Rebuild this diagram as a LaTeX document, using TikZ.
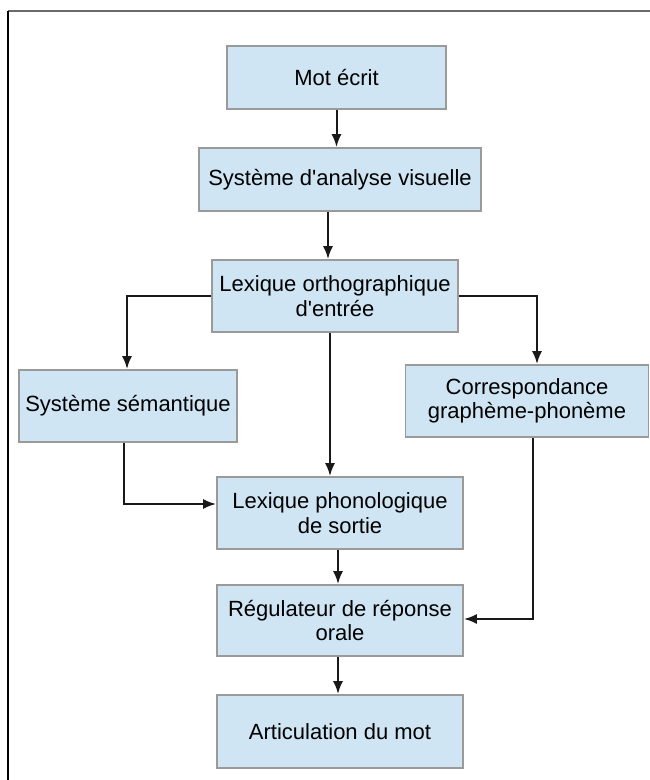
\documentclass[tikz,border=0pt]{standalone}
\usepackage{fontspec}
\setmainfont{Liberation Sans}
\usetikzlibrary{arrows.meta,calc}
\definecolor{boxfill}{HTML}{CFE5F3}
\definecolor{boxdraw}{HTML}{9A9A9A}
\definecolor{frametop}{HTML}{6A6A6A}
\tikzset{
  blk/.style={draw=boxdraw, line width=1.8pt, fill=boxfill, rectangle, align=center,
    inner sep=0pt, font=\fontsize{22}{24.5}\selectfont, text=black},
  arr/.style={draw=black!90, line width=2pt, -{Latex[length=13pt,width=10pt]}},
}
\begin{document}
\begin{tikzpicture}[x=1pt,y=-1pt]
\useasboundingbox (0,0) rectangle (650,780);
% frame (top and left edges only)
\draw[frametop, line width=2pt] (8,11) -- (650,11);
\draw[black, line width=2pt] (8,11) -- (8,780);
% boxes
\node[blk, minimum width=219pt, minimum height=63pt] (mot) at (336.5,77.5) {Mot écrit};
\node[blk, minimum width=282pt, minimum height=63pt] (sys) at (340,179.5) {Système d\textquotesingle analyse visuelle};
\node[blk, minimum width=246pt, minimum height=72pt] (lexo) at (335,296) {Lexique orthographique\\d\textquotesingle entrée};
\node[blk, minimum width=218pt, minimum height=72pt] (sem) at (128,406) {Système sémantique};
\node[blk, minimum width=243pt, minimum height=72pt] (corr) at (527,401) {Correspondance\\graphème-phonème};
\node[blk, minimum width=246pt, minimum height=72pt] (lexp) at (340,513) {Lexique phonologique\\de sortie};
\node[blk, minimum width=246pt, minimum height=71pt] (reg) at (340,620.5) {Régulateur de réponse\\orale};
\node[blk, minimum width=246pt, minimum height=73pt] (art) at (340,731.5) {Articulation du mot};
% connectors
\draw[arr] (mot.south) -- (mot.south |- sys.north);
\draw[arr] ([xshift=-12pt]sys.south) -- ([xshift=-12pt]sys.south |- lexo.north);
\draw[arr] (lexo.west) -| ([xshift=-1pt]sem.north);
\draw[arr] (lexo.east) -| ([xshift=10pt]corr.north);
\draw[arr] ([xshift=-5pt]lexo.south) -- ([xshift=-5pt]lexo.south |- lexp.north);
\draw[arr] ([xshift=-4pt]sem.south) |- ([yshift=9pt]lexp.west);
\draw[arr] ([xshift=6pt]corr.south) |- ([yshift=1.5pt]reg.east);
\draw[arr] ([xshift=-2pt]lexp.south) -- ([xshift=-2pt]lexp.south |- reg.north);
\draw[arr] ([xshift=-2pt]reg.south) -- ([xshift=-2pt]reg.south |- art.north);
\end{tikzpicture}
\end{document}
